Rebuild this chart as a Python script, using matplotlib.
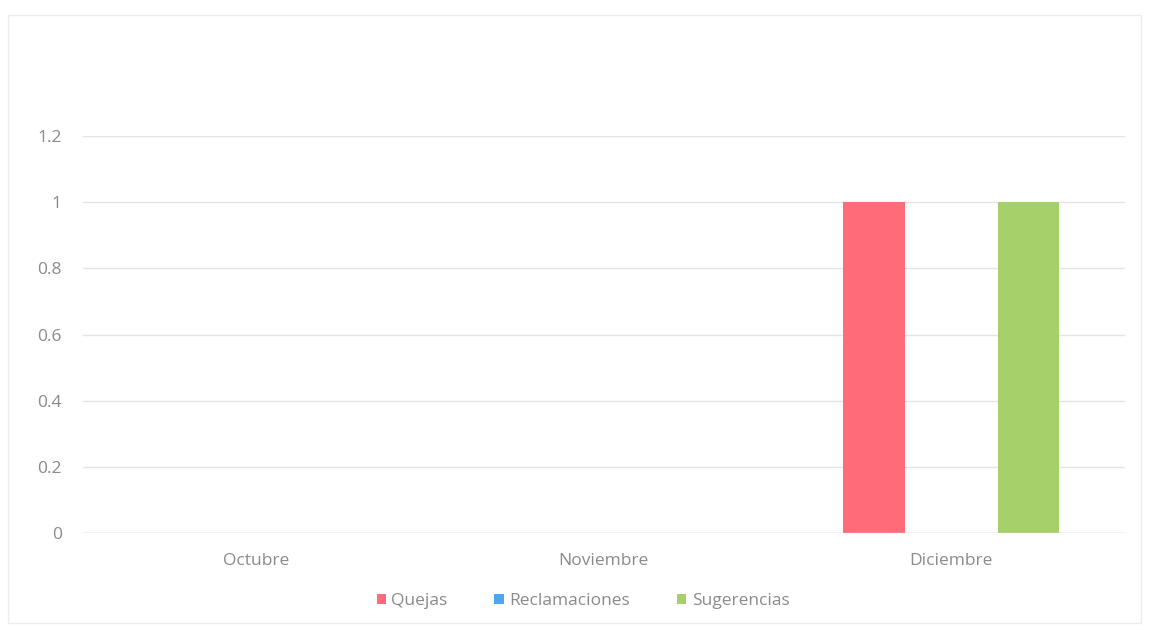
import numpy as np
import matplotlib.pyplot as plt
from matplotlib.patches import Rectangle

# datos
meses = ['Octubre', 'Noviembre', 'Diciembre']
quejas = [0, 0, 1]
reclamaciones = [0, 0, 0]
sugerencias = [0, 0, 1]
yticks = [0, 0.2, 0.4, 0.6, 0.8, 1, 1.2]
ytick_labels = ['0', '0.2', '0.4', '0.6', '0.8', '1', '1.2']

plt.rcParams['font.family'] = ['Open Sans', 'DejaVu Sans']
gris = '#8a8a8a'

fig = plt.figure(figsize=(11.49, 6.31), dpi=100)
ax = fig.add_axes([0.072, 0.155, 0.907, 0.6295])

x = np.arange(len(meses))
ancho = 0.176
desp = 0.222
ax.bar(x - desp, quejas, ancho, color='#ff6b78', label='Quejas')
ax.bar(x, reclamaciones, ancho, color='#4da6f0', label='Reclamaciones')
ax.bar(x + desp, sugerencias, ancho, color='#a6d069', label='Sugerencias')

ax.set_xlim(-0.5, 2.5)
ax.set_ylim(0, 1.2)
ax.set_yticks(yticks)
ax.set_yticklabels(ytick_labels)
ax.set_xticks(x)
ax.set_xticklabels(meses)
ax.grid(axis='y', color='#e4e4e4', linewidth=1)
ax.set_axisbelow(True)
for s in ax.spines.values():
    s.set_visible(False)
ax.axhline(0, color='#d9d9d9', linewidth=1)
ax.tick_params(axis='both', length=0, colors=gris, labelsize=12.5)
ax.tick_params(axis='y', pad=15)
ax.tick_params(axis='x', pad=14)

ax.legend(loc='upper center', bbox_to_anchor=(0.48, -0.112), ncol=3, frameon=False,
          fontsize=12.5, labelcolor=gris, handlelength=0.55, handleheight=0.55,
          handletextpad=0.3, columnspacing=2.7)

# marco claro del grafico
fig.patches.append(Rectangle((0.007, 0.012), 0.986, 0.965, transform=fig.transFigure,
                             fill=False, edgecolor='#ececec', linewidth=1))

plt.savefig('out.png', dpi=100)
